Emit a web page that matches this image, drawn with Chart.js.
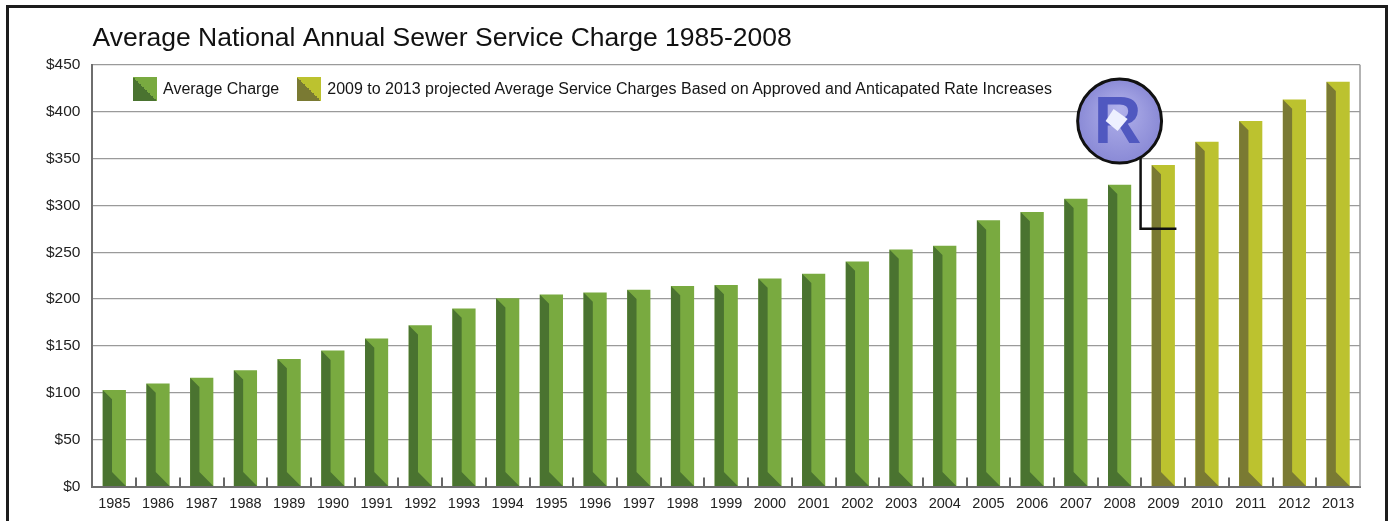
<!DOCTYPE html>
<html>
<head>
<meta charset="utf-8">
<script src="https://cdn.jsdelivr.net/npm/chart.js@4/dist/chart.umd.min.js"></script>
<style>
  html, body { margin: 0; padding: 0; background: #fff; }
  #wrap { position: relative; width: 1390px; height: 521px; overflow: hidden; }
  #frame {
    position: absolute; left: 6px; top: 5px; width: 1376px; height: 600px;
    border: 3px solid #1c1c1c; pointer-events: none;
  }
  #legend {
    position: absolute; left: 133px; top: 77px;
    font: 16px "Liberation Sans", Arial, sans-serif; color: #151515;
    display: flex; align-items: center;
  }
  .item { display: flex; align-items: center; margin-right: 18px; }
  .swatch { width: 24px; height: 24px; margin-right: 6px; }
</style>
</head>
<body>
<div id="wrap">
  <canvas id="sewerChart" width="1390" height="521"></canvas>
  <div id="legend"></div>
  <div id="frame"></div>
</div>
<script>
// Dados do gráfico
const years = ['1985', '1986', '1987', '1988', '1989', '1990', '1991', '1992', '1993', '1994',
  '1995', '1996', '1997', '1998', '1999', '2000', '2001', '2002', '2003', '2004',
  '2005', '2006', '2007', '2008', '2009', '2010', '2011', '2012', '2013'];

const averageCharge = [103, 110, 116, 124, 136, 145, 158, 172, 190, 201,
  205, 207, 210, 214, 215, 222, 227, 240, 253, 257,
  284, 293, 307, 322, null, null, null, null, null];

const projectedCharge = [null, null, null, null, null, null, null, null, null, null,
  null, null, null, null, null, null, null, null, null, null,
  null, null, null, null, 343, 368, 390, 413, 432];

const yMax = 450;
const yStep = 50;

const seriesNames = ['Average Charge',
  '2009 to 2013 projected Average Service Charges Based on Approved and Anticapated Rate Increases'];

// Cores (face clara / face escura)
const greenLight = '#79aa40';
const greenDark = '#4a7330';
const oliveLight = '#bcc22f';
const oliveDark = '#7a7a33';

Chart.defaults.font.family = '"Liberation Sans", Arial, sans-serif';

/**
 * Desenha a face escura (efeito 3D) de cada barra
 */
const barFaces = {
  id: 'barFaces',
  afterDatasetsDraw(chart) {
    const ctx = chart.ctx;
    chart.data.datasets.forEach((ds, di) => {
      const meta = chart.getDatasetMeta(di);
      meta.data.forEach((bar, i) => {
        if (ds.data[i] == null) return;
        const p = bar.getProps(['x', 'y', 'base', 'width'], true);
        const L = p.x - p.width / 2;
        const R = p.x + p.width / 2;
        const dw = p.width * 0.4;
        ctx.save();
        ctx.fillStyle = ds.faceColor;
        ctx.beginPath();
        ctx.moveTo(L, p.y);
        ctx.lineTo(L + dw, p.y + dw);
        ctx.lineTo(L + dw, p.base - (R - L - dw));
        ctx.lineTo(R, p.base);
        ctx.lineTo(L, p.base);
        ctx.closePath();
        ctx.fill();
        ctx.restore();
      });
    });
  }
};

/**
 * Borda direita, marcas do eixo x e logotipo
 */
const extras = {
  id: 'extras',
  beforeDatasetsDraw(chart) {
    const { ctx, chartArea: a } = chart;
    ctx.save();
    ctx.strokeStyle = '#9a9a9a';
    ctx.lineWidth = 1.5;
    ctx.beginPath();
    ctx.moveTo(a.right, a.top);
    ctx.lineTo(a.right, a.bottom);
    ctx.stroke();
    ctx.restore();
  },
  afterDraw(chart) {
    const { ctx, chartArea: a, scales } = chart;
    const x = scales.x, y = scales.y;
    ctx.save();
    // marcas entre categorias
    ctx.strokeStyle = '#666';
    ctx.lineWidth = 2;
    for (let i = 1; i < years.length; i++) {
      const px = Math.round((x.getPixelForValue(i - 1) + x.getPixelForValue(i)) / 2);
      ctx.beginPath();
      ctx.moveTo(px, a.bottom);
      ctx.lineTo(px, a.bottom - 9);
      ctx.stroke();
    }
    // logotipo
    const step = x.getPixelForValue(1) - x.getPixelForValue(0);
    const cx = x.getPixelForValue(23);
    const cy = y.getPixelForValue(390);
    const r = step * 0.96;
    ctx.strokeStyle = '#111';
    ctx.lineWidth = 2.5;
    ctx.beginPath();
    ctx.moveTo(cx + r * 0.5, cy + r * 0.85);
    ctx.lineTo(cx + r * 0.5, y.getPixelForValue(275));
    ctx.lineTo(x.getPixelForValue(24) + step * 0.3, y.getPixelForValue(275));
    ctx.stroke();
    const g = ctx.createRadialGradient(cx, cy - r * 0.3, 2, cx, cy, r);
    g.addColorStop(0, '#b0b0ea');
    g.addColorStop(1, '#8a8ad6');
    ctx.fillStyle = g;
    ctx.lineWidth = 3;
    ctx.beginPath();
    ctx.arc(cx, cy, r, 0, Math.PI * 2);
    ctx.fill();
    ctx.stroke();
    ctx.fillStyle = '#5058c0';
    ctx.font = 'bold 66px "Liberation Sans", Arial, sans-serif';
    ctx.textAlign = 'center';
    ctx.textBaseline = 'middle';
    ctx.fillText('R', cx - 2, cy + 4);
    ctx.fillStyle = '#eef0ff';
    ctx.beginPath();
    ctx.moveTo(cx - 6, cy - 12);
    ctx.lineTo(cx + 8, cy - 2);
    ctx.lineTo(cx - 2, cy + 10);
    ctx.lineTo(cx - 14, cy);
    ctx.closePath();
    ctx.fill();
    ctx.restore();
  }
};

const chart = new Chart(document.getElementById('sewerChart'), {
  type: 'bar',
  data: {
    labels: years,
    datasets: [{
      label: seriesNames[0],
      data: averageCharge,
      backgroundColor: greenLight,
      faceColor: greenDark
    },
    {
      label: seriesNames[1],
      data: projectedCharge,
      backgroundColor: oliveLight,
      faceColor: oliveDark
    }]
  },
  options: {
    responsive: false,
    animation: false,
    devicePixelRatio: 1,
    barPercentage: 0.53,
    categoryPercentage: 1,
    layout: {
      padding: { top: 23, left: 34, right: 30, bottom: 0 }
    },
    scales: {
      x: {
        stacked: true,
        grid: { display: true, drawOnChartArea: false, drawTicks: false },
        border: { display: true, color: '#6e6e6e', width: 2 },
        ticks: {
          color: '#222',
          font: { size: 14.5, lineHeight: 1 },
          padding: 10,
          maxRotation: 0,
          autoSkip: false
        }
      },
      y: {
        stacked: true,
        min: 0,
        max: yMax,
        grid: { color: '#9a9a9a', lineWidth: 1.2, drawTicks: false },
        border: { display: true, color: '#6e6e6e', width: 2 },
        ticks: {
          stepSize: yStep,
          color: '#222',
          font: { size: 15.5 },
          padding: 12,
          callback: v => '$' + v
        }
      }
    },
    plugins: {
      legend: { display: false },
      tooltip: { enabled: false },
      title: {
        display: true,
        text: 'Average National Annual Sewer Service Charge 1985-2008',
        align: 'start',
        fullSize: false,
        color: '#111',
        font: { size: 26.5, weight: 'normal' },
        padding: { top: 0, bottom: 10 }
      }
    }
  },
  plugins: [barFaces, extras]
});

// Legenda em HTML dentro da área do gráfico
const legendEl = document.getElementById('legend');
chart.data.datasets.forEach(ds => {
  const item = document.createElement('div');
  item.className = 'item';
  item.innerHTML = `<span class="swatch" style="background:linear-gradient(to top right, ${ds.faceColor} 50%, ${ds.backgroundColor} 50%)"></span><span>${ds.label}</span>`;
  legendEl.appendChild(item);
});
</script>
</body>
</html>
